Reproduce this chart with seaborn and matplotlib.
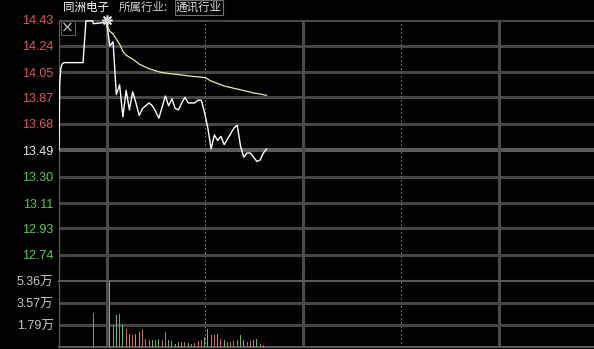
import numpy as np
import pandas as pd
import seaborn as sns
import matplotlib.pyplot as plt
from matplotlib.patches import Rectangle

# ---------------- data ----------------
stock_name = "同洲电子"
industry_label = "所属行业:"
industry_name = "通讯行业"
prev_close = 13.49
day_high = 14.43

# call-auction segment (minutes relative to 9:30)
auction_t = [-14.55, -14.35, -14.0, -13.6, -13.0, -7.2, -6.3, -4.3, -4.0]
auction_p = [13.49, 13.96, 14.08, 14.11, 14.12, 14.12, 14.42, 14.42, 14.40]

# continuous trading, one value per minute from 9:30
trade_t = list(range(50))
trade_p = [14.41, 14.24, 14.27, 13.89, 13.96, 13.73, 13.92, 13.78, 13.91, 13.83,
           13.74, 13.79, 13.81, 13.83, 13.81, 13.77, 13.72, 13.80, 13.88, 13.81,
           13.86, 13.79, 13.78, 13.83, 13.87, 13.83, 13.83, 13.83, 13.85, 13.85,
           13.76, 13.65, 13.50, 13.60, 13.56, 13.59, 13.53, 13.57, 13.61, 13.65,
           13.67, 13.52, 13.44, 13.47, 13.47, 13.44, 13.41, 13.42, 13.47, 13.50]
avg_p = [14.390, 14.346, 14.325, 14.289, 14.253, 14.202, 14.173, 14.159, 14.145, 14.127,
         14.109, 14.098, 14.087, 14.076, 14.069, 14.062, 14.054, 14.049, 14.045, 14.041,
         14.039, 14.037, 14.034, 14.031, 14.028, 14.025, 14.022, 14.020, 14.018, 14.015,
         14.013, 14.001, 13.988, 13.979, 13.970, 13.961, 13.952, 13.946, 13.941, 13.935,
         13.930, 13.925, 13.919, 13.914, 13.908, 13.902, 13.898, 13.894, 13.889, 13.885]

# volume (万) : auction bar at -4, then per minute from minute 1
vol_t = [-4] + list(range(1, 49))
vol = [2.79, 5.36, 1.76, 2.57, 2.71, 1.76, 1.49, 1.08, 0.95, 1.08, 1.22,
       1.35, 0.68, 0.54, 0.60, 0.54, 0.68, 0.60, 1.22, 0.54, 0.46,
       0.22, 0.41, 0.41, 0.41, 0.32, 0.27, 0.32, 0.49, 0.54, 0.81,
       1.49, 0.95, 0.95, 1.08, 0.68, 0.54, 0.41, 0.41, 0.49, 0.54,
       0.95, 0.54, 0.41, 0.49, 0.54, 0.68, 0.27, 0.16]

price_ticks = [14.43, 14.24, 14.05, 13.87, 13.68, 13.49, 13.30, 13.11, 12.93, 12.74]
vol_ticks = [1.79, 3.57, 5.36]
vol_tick_labels = ["1.79万", "3.57万", "5.36万"]

# ---------------- styling ----------------
sns.set_theme(style="dark")
plt.rcParams['font.family'] = ['Liberation Sans', 'Noto Sans CJK SC', 'DejaVu Sans']

RED = "#e05a5a"
GREEN = "#5ac85a"
GRID = "#454545"
BORDER = "#5a5a5a"
GL = 0.9  # grid line width (pt)

fig = plt.figure(figsize=(5.94, 3.49), dpi=100, facecolor="black")
W, H = 594, 349
x0 = 59 / W
ax = fig.add_axes([x0, 1 - 281 / H, 1 - x0 + 0.01, (281 - 19.5) / H])
axv = fig.add_axes([x0, 2 / H, 1 - x0 + 0.01, (347 - 281) / H])

xmin, xmax = -14.55, 151.0
for a in (ax, axv):
    a.set_facecolor("black")
    for s in a.spines.values():
        s.set_color(BORDER)
        s.set_linewidth(1.5)
    a.spines['right'].set_visible(False)
    a.tick_params(axis='both', length=0)
    a.grid(False)
ax.spines['top'].set_linewidth(GL)
ax.spines['top'].set_color(GRID)
ax.spines['left'].set_linewidth(GL)
axv.spines['left'].set_linewidth(GL)

# ---- price panel ----
df_price = pd.DataFrame({"t": auction_t + trade_t, "p": auction_p + trade_p})
df_avg = pd.DataFrame({"t": trade_t, "p": avg_p})

half = 5 * 0.188
ylo, yhi = prev_close - half, prev_close + half
for v in price_ticks:
    if abs(v - prev_close) < 1e-6:
        ax.axhline(v, color=BORDER, lw=1.5, zorder=1, antialiased=False)
    else:
        ax.axhline(v, color=GRID, lw=GL, zorder=1, antialiased=False)

for tv, style in [(0, '-'), (30, ':'), (60, '-'), (90, ':'), (120, '-'), (150, ':')]:
    for a in (ax, axv):
        a.axvline(tv, color="#4c4c4c" if style == '-' else "#666666", lw=GL,
                  ls=style, zorder=1, antialiased=False)

sns.lineplot(data=df_avg, x="t", y="p", ax=ax, color="#eaeaa8", lw=0.9,
             estimator=None, sort=False, zorder=3)
sns.lineplot(data=df_price, x="t", y="p", ax=ax, color="white", lw=1.0,
             estimator=None, sort=False, zorder=4)
ax.scatter([0], [day_high], marker=(8, 2, 0), s=45, color="#d8d8d8", lw=1.2,
           zorder=5, clip_on=False)

ax.set_xlim(xmin, xmax)
ax.set_ylim(ylo, yhi)
ax.set_yticks(price_ticks)
ax.set_yticklabels([f"{v:.2f}" for v in price_ticks], fontsize=9)
for lab, v in zip(ax.get_yticklabels(), price_ticks):
    if v > prev_close + 1e-6:
        lab.set_color(RED)
    elif v < prev_close - 1e-6:
        lab.set_color(GREEN)
    else:
        lab.set_color("#e8e8e8")
ax.tick_params(axis='y', pad=4)
ax.set_xticks([])
ax.set_xlabel("")
ax.set_ylabel("")

# close box in top-left
fig.patches.append(Rectangle((60.5 / W, 1 - 35 / H), 14 / W, 14 / H,
                             transform=fig.transFigure, fc="black", ec="#5a5a5a",
                             lw=0.8, zorder=10))
fig.text(67.5 / W, 1 - 28 / H, "×", color="#c0c0c0", fontsize=11,
         family=['DejaVu Sans'], ha="center", va="center", zorder=11)

# ---- volume panel ----
full_p = dict(zip(trade_t, trade_p))
dirs = []
for t in vol_t:
    if t <= 0:
        dirs.append("up")
    else:
        dirs.append("down" if full_p[t] < full_p[t - 1] else "up")
df_vol = pd.DataFrame({"t": vol_t, "v": vol, "dir": dirs})

for v in vol_ticks[:-1]:
    axv.axhline(v, color=GRID, lw=GL, zorder=1, antialiased=False)

sns.barplot(data=df_vol, x="t", y="v", hue="dir", palette={"up": RED, "down": GREEN},
            native_scale=True, width=0.3, dodge=False, legend=False, ax=axv,
            edgecolor="none", zorder=3)
axv.set_xlim(xmin, xmax)
axv.set_ylim(0, vol_ticks[-1])
axv.set_yticks(vol_ticks)
axv.set_yticklabels(vol_tick_labels, fontsize=9, color="#c8c8c8",
                    family=['Liberation Sans', 'Noto Sans CJK SC'])
axv.tick_params(axis='y', pad=4)
axv.set_xticks([])
axv.set_xlabel("")
axv.set_ylabel("")

# ---- header text ----
fig.text(63 / W, 1 - 7.5 / H, stock_name, color="white", fontsize=8.3,
         family=['Noto Sans CJK SC'], ha="left", va="center")
fig.text(119 / W, 1 - 7.5 / H, industry_label, color="#d0d0d0", fontsize=8.3,
         family=['Noto Sans CJK SC'], ha="left", va="center")
fig.text(176 / W, 1 - 7.5 / H, industry_name, color="#e0e0e0", fontsize=8.3,
         family=['Noto Sans CJK SC'], ha="left", va="center",
         bbox=dict(boxstyle="square,pad=0.12", fc="black", ec="#707070", lw=0.8))

fig.savefig("out.png", dpi=100, facecolor="black")
